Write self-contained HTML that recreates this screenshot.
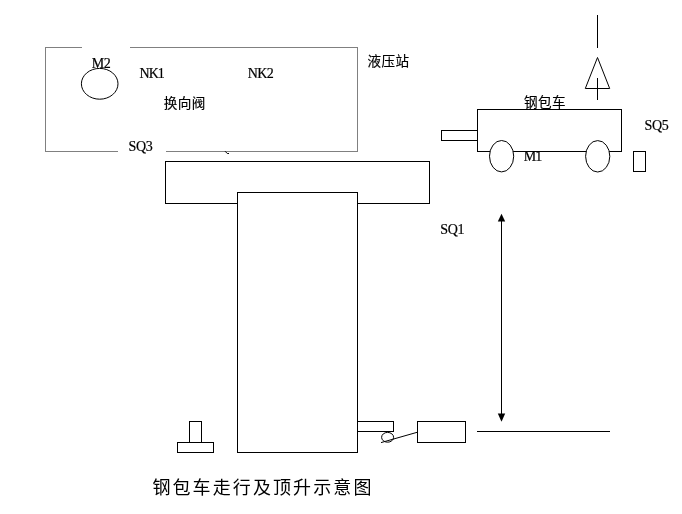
<!DOCTYPE html>
<html lang="zh-CN">
<head>
<meta charset="utf-8">
<title>钢包车走行及顶升示意图</title>
<style>
  html, body { margin: 0; padding: 0; background: #ffffff; }
  body { width: 682px; height: 514px; overflow: hidden; position: relative; }
  svg { position: absolute; left: 0; top: 0; display: block; will-change: transform; }
  .k { fill: none; stroke: #000000; stroke-width: 1; }
  .kf { fill: #ffffff; stroke: #000000; stroke-width: 1; }
  .g { fill: none; stroke: #808080; stroke-width: 1; }
  .crisp { shape-rendering: crispEdges; }
  text { font-family: "Liberation Serif", "Noto Sans CJK SC", serif; font-size: 14px; fill: #000000; stroke: #000000; stroke-width: 0.2px; }
  text.cjk { font-family: "Liberation Serif", "Noto Sans CJK SC", sans-serif; font-size: 13.6px; letter-spacing: 0.4px; stroke: #000000; stroke-width: 0.15px; }
  text.title { font-family: "Liberation Serif", "Noto Sans CJK SC", sans-serif; font-size: 18px; letter-spacing: 2.1px; stroke: none; font-weight: 400; }
</style>
</head>
<body>
<svg width="682" height="514" viewBox="0 0 682 514">
  <rect x="0" y="0" width="682" height="514" fill="#ffffff"/>

  <!-- hydraulic station box (gray outline with label gaps) -->
  <g class="g crisp">
    <path d="M82 47.5 H45.5 V151.5 H118"/>
    <path d="M130 47.5 H357.5 V151.5 H166"/>
  </g>
  <path class="k" d="M225 151.2 L227.3 153.5 H229"/>
  <ellipse class="k" cx="99.7" cy="83.8" rx="18.3" ry="15.4"/>

  <!-- lifting T -->
  <rect class="kf crisp" x="165.5" y="161.5" width="264" height="42"/>
  <rect class="kf crisp" x="237.5" y="192.5" width="120" height="260"/>

  <!-- small T at lower left -->
  <rect class="kf crisp" x="177.5" y="442.5" width="36" height="10"/>
  <rect class="kf crisp" x="189.5" y="421.5" width="12" height="21"/>

  <!-- limit switch at lower right of column -->
  <rect class="kf crisp" x="357.5" y="421.5" width="36" height="10"/>
  <ellipse class="k" cx="387.6" cy="437.3" rx="6" ry="4.9"/>
  <path class="k" d="M381 442.6 L417.5 432.2"/>
  <rect class="kf crisp" x="417.5" y="421.5" width="48" height="21"/>

  <!-- ground line -->
  <path class="k crisp" d="M477 431.5 H610"/>

  <!-- double arrow -->
  <path class="k crisp" d="M501.5 220 V415"/>
  <path d="M501.5 213.8 L505.2 221.5 H497.8 Z" fill="#000"/>
  <path d="M501.5 421.8 L505.2 413.5 H497.8 Z" fill="#000"/>

  <!-- ladle car -->
  <text class="cjk" x="523.9" y="107.3">钢包车</text>
  <rect class="kf crisp" x="441.5" y="130.5" width="36" height="10"/>
  <rect class="kf crisp" x="477.5" y="109.5" width="144" height="42"/>
  <text x="523.8" y="161" style="letter-spacing:-1px">M1</text>
  <ellipse class="kf" cx="501.6" cy="156.2" rx="12.1" ry="15.7"/>
  <ellipse class="kf" cx="597.7" cy="156.3" rx="12.1" ry="15.7"/>
  <rect class="kf crisp" x="633.5" y="151.5" width="12" height="20"/>

  <!-- hook / triangle -->
  <path class="k crisp" d="M597.5 15 V48 M597.5 78 V100"/>
  <path class="k" d="M597.5 57.5 L609.7 88.5 H585.3 Z"/>

  <!-- labels -->
  <text x="91.7" y="68" style="letter-spacing:-0.4px">M2</text>
  <text x="139.6" y="78" style="letter-spacing:-1px">NK1</text>
  <text x="247.7" y="78" style="letter-spacing:-0.6px">NK2</text>
  <text x="128.4" y="151" style="letter-spacing:-0.3px">SQ3</text>
  <text x="644.5" y="130" style="letter-spacing:-0.3px">SQ5</text>
  <text x="440.3" y="234" style="letter-spacing:-0.3px">SQ1</text>
  <text class="cjk" x="163.7" y="107.5">换向阀</text>
  <text class="cjk" x="367.5" y="66.4">液压站</text>
  <text class="title" x="152.4" y="494.4">钢包车走行及顶升示意图</text>
</svg>
</body>
</html>
